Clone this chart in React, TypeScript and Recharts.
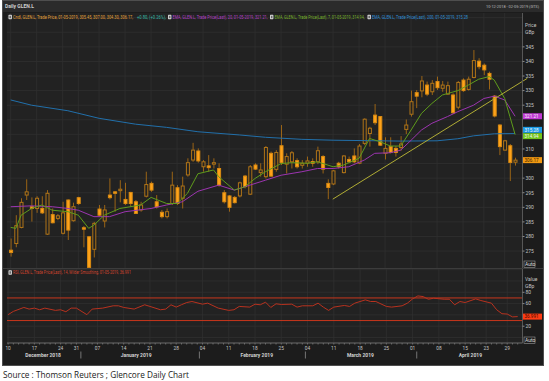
import React from 'react';
import { ComposedChart, Bar, Line, XAxis, YAxis, CartesianGrid, ReferenceLine } from 'recharts';

// ---------------- data ----------------
const dates = [
  '2018-12-10','2018-12-11','2018-12-12','2018-12-13','2018-12-14','2018-12-17','2018-12-18','2018-12-19','2018-12-20','2018-12-21','2018-12-24','2018-12-27','2018-12-28','2018-12-31',
  '2019-01-02','2019-01-03','2019-01-04','2019-01-07','2019-01-08','2019-01-09','2019-01-10','2019-01-11','2019-01-14','2019-01-15','2019-01-16','2019-01-17','2019-01-18','2019-01-21','2019-01-22','2019-01-23','2019-01-24','2019-01-25','2019-01-28','2019-01-29','2019-01-30','2019-01-31',
  '2019-02-01','2019-02-04','2019-02-05','2019-02-06','2019-02-07','2019-02-08','2019-02-11','2019-02-12','2019-02-13','2019-02-14','2019-02-15','2019-02-18','2019-02-19','2019-02-20','2019-02-21','2019-02-22','2019-02-25','2019-02-26','2019-02-27','2019-02-28',
  '2019-03-01','2019-03-04','2019-03-05','2019-03-06','2019-03-07','2019-03-08','2019-03-11','2019-03-12','2019-03-13','2019-03-14','2019-03-15','2019-03-18','2019-03-19','2019-03-20','2019-03-21','2019-03-22','2019-03-25','2019-03-26','2019-03-27','2019-03-28','2019-03-29',
  '2019-04-01','2019-04-02','2019-04-03','2019-04-04','2019-04-05','2019-04-08','2019-04-09','2019-04-10','2019-04-11','2019-04-12','2019-04-15','2019-04-16','2019-04-17','2019-04-18','2019-04-23','2019-04-24','2019-04-25','2019-04-26','2019-04-29','2019-04-30',
  '2019-05-01',
];

const opens = [
  275.3,277.6,283.1,294.2,290.2,289.6,289.6,280.8,287.5,286.2,281.1,292.5,285.4,293.3,
  283.0,279.9,275.6,289.4,285.3,294.2,295.3,295.7,292.7,295.1,291.9,289.1,293.8,298.2,291.9,288.3,286.8,291.3,296.7,293.1,301.1,306.2,
  309.3,303.9,304.2,304.8,303.3,295.0,293.9,293.4,293.9,300.7,294.5,304.5,301.9,300.5,308.5,303.0,311.1,304.8,305.6,306.0,
  304.4,305.1,305.7,305.6,307.4,298.2,298.0,305.1,301.9,306.4,307.6,305.1,311.9,315.3,321.6,321.1,308.5,310.8,310.2,310.5,316.7,
  321.9,329.3,329.9,331.9,329.6,333.1,330.8,328.8,328.5,324.3,333.6,330.4,334.5,340.1,338.7,335.9,328.1,318.2,309.6,311.1,
  305.45,
];
const highs = [
  279.3,287.3,293.1,299.6,293.4,293.8,293.8,295.9,289.6,287.7,291.9,292.7,291.6,293.6,
  283.6,280.2,285.0,290.8,290.8,299.9,295.6,299.3,298.4,295.3,292.5,291.9,302.2,298.8,294.2,289.1,289.6,302.2,297.6,300.5,306.8,312.1,
  310.2,306.2,307.9,306.8,305.1,295.9,294.2,293.9,298.8,301.1,304.5,305.1,305.1,311.0,309.1,309.6,318.2,308.5,309.3,306.8,
  306.2,307.4,306.8,310.8,307.9,299.6,302.8,305.6,307.9,307.4,310.2,311.7,320.5,317.6,325.4,321.3,314.0,314.0,311.0,314.4,320.1,
  330.0,330.2,335.0,333.1,333.6,334.8,333.3,333.1,329.1,333.3,334.2,334.8,343.9,341.1,339.3,336.5,328.5,318.5,313.1,311.7,
  307.0,
];
const lows = [
  273.1,276.3,282.8,292.5,285.1,288.1,287.7,280.5,284.5,285.6,280.7,278.8,285.1,290.8,
  276.3,269.2,272.8,287.0,283.1,292.7,288.5,291.7,290.8,290.2,287.7,288.5,293.4,295.3,289.6,286.2,286.2,290.8,290.8,289.6,300.5,305.6,
  305.3,302.2,302.2,303.3,297.1,291.3,288.5,291.3,293.4,296.5,294.2,302.8,300.5,299.9,300.5,302.2,304.5,301.6,303.3,303.3,
  303.3,303.9,303.9,304.8,301.6,292.8,297.6,303.3,301.6,305.1,305.1,304.8,311.3,310.8,318.2,311.0,306.4,308.5,307.4,309.4,315.1,
  321.1,324.0,327.7,328.1,328.5,330.2,329.6,328.5,322.0,323.6,329.6,330.0,334.2,337.3,335.3,330.4,320.8,307.9,309.4,299.0,
  304.3,
];
const closes = [
  274.5,283.7,291.7,295.3,289.6,293.1,288.1,294.8,284.7,287.1,288.1,282.2,290.2,291.3,
  282.5,269.4,284.5,287.3,289.1,293.3,294.8,296.2,291.3,291.3,287.9,290.8,297.8,295.9,290.2,286.8,288.5,297.6,291.3,297.3,305.3,309.6,
  305.9,305.6,303.6,305.3,297.6,291.9,290.0,291.6,298.4,297.1,303.9,303.1,302.8,310.5,300.7,308.8,305.3,307.4,308.7,303.9,
  305.1,305.9,305.1,309.4,303.1,296.8,302.5,303.9,307.6,305.6,305.6,311.0,320.2,317.1,319.0,311.3,310.2,308.8,308.8,311.7,318.2,
  326.2,328.1,333.3,328.8,332.5,331.0,331.9,331.7,322.4,332.8,330.0,333.9,340.3,338.2,337.1,333.9,321.3,310.8,312.8,305.37,
  306.17,
];

// [trading-day index, value]
const ema7Points: Array<[number, number]> = [
  [0,283.1],[1,282.8],[2,287.3],[4,289.6],[6,290.8],[8,289],[11,288.5],[13,287.3],[15,282.8],[16,283.9],[18,287.3],[21,289.6],
  [25,290.8],[27,293.4],[30,291.3],[32,291.3],[34,294.8],[36,301.5],[39,302.8],[40,300.5],[43,295.9],[45,297],[47,299.9],[49,302.2],
  [52,305],[54,305.3],[57,305.1],[59,305.6],[62,303.9],[64,304.5],[67,306.8],[69,313.6],[71,312.5],[73,311],[75,311],[77,316.5],
  [79,322.2],[81,325.6],[83,328.5],[84,329],[86,330],[88,331.9],[90,333.9],[92,334.8],[93,333.6],[95,327.3],[96,321.1],[97,314.94],
];
const ema20Points: Array<[number, number]> = [
  [0,290.2],[4,290.5],[8,290.2],[11,289.6],[13,289],[16,286.8],[19,286.8],[22,288.5],[27,289.6],[30,290.8],[33,291.9],[36,295.5],
  [40,297.6],[43,295.9],[46,297.6],[49,299.3],[52,301],[56,302.2],[59,303.3],[62,303.3],[65,303.9],[68,306.2],[70,308.5],[73,308.7],
  [75,309.6],[77,313],[79,316.5],[81,318.8],[84,321.1],[86,322.8],[89,325],[91,327.3],[93,328.1],[95,326.8],[97,321.21],
];
const ema200Points: Array<[number, number]> = [
  [0,326.8],[4,325],[11,323.1],[17,320.5],[24,318.5],[30,317.4],[36,315.9],[44,314.8],[49,314],[56,313.3],[62,313],[75,312.7],
  [82,312.8],[86,313.5],[89,314.5],[93,315.2],[97,315.28],
];
const rsiPoints: Array<[number, number]> = [
  [0,40.4],[1,46.2],[3,53.2],[4,50.3],[5,52],[6,49.1],[7,52],[9,48],[10,49.1],[11,45.6],[12,52],[13,52],[15,40.4],[16,50.3],[18,52],
  [20,56.1],[21,56.1],[22,53.2],[24,50.3],[26,57.9],[27,55],[29,49.1],[30,50.3],[31,57.9],[32,53.8],[33,58],[34,61.9],[35,63.7],
  [37,59],[38,60.8],[40,52],[42,48],[43,49.1],[44,55],[46,53.8],[47,59],[48,57.9],[49,62.5],[50,53.2],[51,59.6],[52,58.4],[54,59],
  [55,53.8],[56,56.1],[58,56.1],[59,60.8],[60,53.8],[61,48],[62,53.8],[64,56.7],[65,55],[66,60.8],[68,66.6],[69,63.7],[70,63.7],
  [72,55],[73,53.8],[75,56.1],[76,60.8],[77,68.3],[78,73.6],[79,72.4],[80,67.7],[81,69.5],[83,67.7],[84,67.7],[85,57.9],[86,63.7],
  [87,61.9],[89,68.3],[90,65.4],[92,60.8],[93,49.1],[94,42.1],[95,41.5],[96,36.5],[97,36.99],
];

const dateTicks = [
  '2018-12-10','2018-12-17','2018-12-24','2018-12-31','2019-01-07','2019-01-14','2019-01-21','2019-01-28',
  '2019-02-04','2019-02-11','2019-02-18','2019-02-25','2019-03-04','2019-03-11','2019-03-18','2019-03-25',
  '2019-04-01','2019-04-08','2019-04-15','2019-04-23','2019-04-29',
];
const tickLabels = ['10','17','24','31','07','14','21','28','04','11','18','25','04','11','18','25','01','08','15','23','29'];
const monthNames = ['December 2018','January 2019','February 2019','March 2019','April 2019'];
const monthCenters = [6.8, 24.3, 47.0, 66.5, 87.2]; // in trading-day index units
const monthBreaks = [13.9, 36.2, 56.15, 77.1, 97.3];
// price labels hidden behind the value tags in the reference (305, 315, 320) are left out
const priceTicks = [275,280,285,290,295,300,310,325,330,335,340,345];
const priceGrid = [275,280,285,290,295,300,305,310,315,320,325,330,335,340,345,350,355];
const rsiTicks = [20,60,80];
const rsiGrid = [0,20,40,60,80,100,120];
const rsiBands = [70, 30];
const trendLine = [{ x: 61.3, y: 292.8 }, { x: 97.9, y: 334.2 }];
const lastEma20 = 321.21, lastEma200 = 315.28, lastEma7 = 314.94, lastClose = 306.17, lastRsi = 36.991;

// ---------------- build table ----------------
const pick = (pts: Array<[number, number]>, i: number) => {
  const f = pts.find((p) => p[0] === i);
  return f ? f[1] : null;
};
const data = dates.map((d, i) => ({
  date: d, open: opens[i], high: highs[i], low: lows[i], close: closes[i],
  ema7: pick(ema7Points, i), ema20: pick(ema20Points, i), ema200: pick(ema200Points, i), rsi: pick(rsiPoints, i),
}));
const tickLabelMap: Record<string, string> = {};
dateTicks.forEach((d, k) => { tickLabelMap[d] = tickLabels[k]; });

// ---------------- style ----------------
const FONT = 'Roboto, "Liberation Sans", sans-serif';
const PLOT_BG = '#222222';
const GRID = '#303030';
const AXIS_TXT = '#c4c4c4';
const DOWN = '#ffa31a';
const UP_STROKE = '#b07418';
const WICK = '#9a6416';
const C_EMA7 = '#5f9c1c';
const C_EMA20 = '#9c35b0';
const C_EMA200 = '#2270ab';
const C_TREND = '#b0ac34';
const C_RSI = '#b8321f';
const C_BAND = '#c8361c';

const W = 549;
const LEFT = 7;
const AXIS_W = 26.5;
const X_PAD = { left: 1.1, right: 4.8 };
const IDX_DOMAIN: [number, number] = [-0.7115, 98.42];

const Candle = (props: any) => {
  const { x, y, width, height, payload } = props;
  if (!payload) return <g />;
  const { open, close, high, low } = payload;
  const top = Math.min(y, y + height);
  const h = Math.abs(height);
  const k = h / (high - low);
  const yO = top + (high - open) * k;
  const yC = top + (high - close) * k;
  const bTop = Math.min(yO, yC);
  const bH = Math.max(Math.abs(yC - yO), 1);
  const cx = x + width / 2;
  const up = close >= open;
  return (
    <g>
      <line x1={cx} x2={cx} y1={top} y2={top + h} stroke={WICK} strokeWidth={1} />
      <rect x={x + 0.5} y={bTop} width={width - 1} height={bH}
        fill={up ? PLOT_BG : DOWN} stroke={up ? UP_STROKE : '#d98a12'} strokeWidth={1} />
    </g>
  );
};

const ValueTag = (props: any) => {
  const { viewBox, text, bg, fg, dy = 0, w = 19 } = props;
  if (!viewBox) return null;
  const x0 = viewBox.x + viewBox.width + 0.5;
  const yc = viewBox.y + dy;
  return (
    <g>
      <rect x={x0} y={yc - 3} width={w} height={6} fill={bg} />
      <text x={x0 + 1.5} y={yc + 1.7} fontSize={4.6} fontFamily={FONT} fill={fg}>{text}</text>
    </g>
  );
};

const MonthLabel = (props: any) => {
  const { viewBox, text } = props;
  if (!viewBox) return null;
  return (
    <text x={viewBox.x} y={viewBox.y + viewBox.height + 14} textAnchor="middle" fontSize={5}
      fontWeight={700} fontFamily={FONT} fill="#d0d0d0">{text}</text>
  );
};
const MonthBreak = (props: any) => {
  const { viewBox } = props;
  if (!viewBox) return null;
  const yb = viewBox.y + viewBox.height;
  return <line x1={viewBox.x} x2={viewBox.x} y1={yb + 8.5} y2={yb + 15.5} stroke="#8c8c8c" strokeWidth={0.8} />;
};

const DayTick = (props: any) => {
  const { x, y, payload } = props;
  const lbl = tickLabelMap[payload.value];
  return (
    <g>
      <line x1={x} x2={x} y1={y} y2={y + 1.6} stroke="#8a8a8a" strokeWidth={0.6} />
      {lbl ? (
        <text x={x} y={y + 6.8} textAnchor="middle" fontSize={4.8} fontFamily={FONT} fill={AXIS_TXT}>{lbl}</text>
      ) : null}
    </g>
  );
};

const PriceChart = () => (
  <ComposedChart width={W} height={270} data={data} margin={{ top: 13, right: 0, bottom: 2, left: LEFT }}>
    <CartesianGrid stroke={GRID} strokeWidth={0.8} verticalValues={dateTicks} horizontalValues={priceGrid} />
    <XAxis dataKey="date" hide padding={X_PAD} ticks={dateTicks} interval={0} />
    <XAxis xAxisId="num" type="number" hide domain={IDX_DOMAIN} allowDataOverflow />
    <YAxis orientation="right" width={AXIS_W} domain={[269.2, 356.6]} allowDataOverflow ticks={priceTicks} interval={0}
      tickSize={2} tickMargin={1} axisLine={{ stroke: '#575757' }} tickLine={{ stroke: '#8a8a8a' }}
      tick={{ fontSize: 5, fill: AXIS_TXT, fontFamily: FONT }} />
    <Line dataKey="ema200" stroke={C_EMA200} strokeWidth={1} dot={false} connectNulls isAnimationActive={false} />
    <Line dataKey="ema20" stroke={C_EMA20} strokeWidth={1} dot={false} connectNulls isAnimationActive={false} />
    <Line dataKey="ema7" stroke={C_EMA7} strokeWidth={1} dot={false} connectNulls isAnimationActive={false} />
    <Bar dataKey={(d: any) => [d.low, d.high]} barSize={4} shape={Candle} isAnimationActive={false} />
    <ReferenceLine xAxisId="num" segment={trendLine} stroke={C_TREND} strokeWidth={1} ifOverflow="visible" />
    <ReferenceLine y={lastEma20} stroke="none" ifOverflow="visible"
      label={<ValueTag text={lastEma20.toFixed(2)} bg="#c23ad6" fg="#f4f4f4" />} />
    <ReferenceLine y={lastEma200} stroke="none" ifOverflow="visible"
      label={<ValueTag text={lastEma200.toFixed(2)} bg="#1d9be6" fg="#f4f4f4" dy={-3.7} />} />
    <ReferenceLine y={lastEma7} stroke="none" ifOverflow="visible"
      label={<ValueTag text={lastEma7.toFixed(2)} bg="#72c51c" fg="#f4f4f4" dy={1.6} />} />
    <ReferenceLine y={lastClose} stroke="none" ifOverflow="visible"
      label={<ValueTag text={lastClose.toFixed(2)} bg="#f39a12" fg="#3a2400" />} />
  </ComposedChart>
);

const RsiChart = () => (
  <ComposedChart width={W} height={97} data={data} margin={{ top: 0, right: 0, bottom: 0, left: LEFT }}>
    <CartesianGrid stroke={GRID} strokeWidth={0.8} verticalValues={dateTicks} horizontalValues={rsiGrid} />
    <XAxis dataKey="date" padding={X_PAD} ticks={dates} interval={0} height={23} tickSize={0} tickMargin={0}
      tickLine={false} axisLine={{ stroke: '#6a6a6a' }} tick={DayTick} />
    <XAxis xAxisId="num" type="number" hide domain={IDX_DOMAIN} allowDataOverflow />
    <YAxis orientation="right" width={AXIS_W} domain={[-9.7, 121.2]} allowDataOverflow ticks={rsiTicks} interval={0}
      tickSize={2} tickMargin={1} axisLine={{ stroke: '#575757' }} tickLine={{ stroke: '#8a8a8a' }}
      tick={{ fontSize: 5, fill: AXIS_TXT, fontFamily: FONT }} />
    {rsiBands.map((v) => (
      <ReferenceLine key={v} y={v} stroke={C_BAND} strokeWidth={1} />
    ))}
    <Line dataKey="rsi" stroke={C_RSI} strokeWidth={1} dot={false} connectNulls isAnimationActive={false} />
    <ReferenceLine y={lastRsi} stroke="none" ifOverflow="visible"
      label={<ValueTag text={lastRsi.toFixed(3)} bg="#ff3c14" fg="#3a0a00" />} />
    {monthCenters.map((c, k) => (
      <ReferenceLine key={'m' + k} xAxisId="num" x={c} stroke="none" label={<MonthLabel text={monthNames[k]} />} />
    ))}
    {monthBreaks.map((c, k) => (
      <ReferenceLine key={'b' + k} xAxisId="num" x={c} stroke="none" label={<MonthBreak />} />
    ))}
  </ComposedChart>
);

const Icon = ({ x, y }: { x: number; y: number }) => (
  <g>
    <rect x={x} y={y - 2.2} width={3.4} height={4.4} rx={0.6} fill="#d8d8d8" />
    <rect x={x + 0.9} y={y - 1.2} width={1.6} height={2.4} fill="#6a6a6a" />
  </g>
);

// condensed text: drawn at a natural size then squeezed horizontally to the width
const Squeezed = ({ x, y, w, k, color, size = 5, children }: any) => (
  <g transform={`translate(${x},${y}) scale(${k},1)`}>
    <text x={0} y={0} fontSize={size} fontFamily={FONT} fill={color} textLength={w / k} lengthAdjust="spacingAndGlyphs">{children}</text>
  </g>
);

const Overlay = () => (
  <svg width={549} height={381} style={{ position: 'absolute', left: 0, top: 0, pointerEvents: 'none' }}>
    <text x={5} y={8} fontSize={5} fontWeight={700} fontFamily={FONT} fill="#cfcfcf">Daily GLEN.L</text>
    <Squeezed x={486} y={8} w={53} k={0.72} size={4.4} color="#bdbdbd">10-12-2018 - 02-05-2019 (GTS)</Squeezed>
    <Icon x={8.5} y={17} />
    <Squeezed x={13} y={18.8} w={120} k={0.72} color="#e3a23a">Cndl, GLEN.L, Trade Price, 01-05-2019, 305.45, 307.00, 304.30, 306.17,</Squeezed>
    <Squeezed x={137} y={18.8} w={29} k={0.72} color="#35b7a6">+0.80, (+0.26%),</Squeezed>
    <Icon x={168} y={17} />
    <Squeezed x={172.5} y={18.8} w={95} k={0.72} color="#b640c8">EMA, GLEN.L, Trade Price(Last), 20, 01-05-2019, 321.21,</Squeezed>
    <Icon x={270} y={17} />
    <Squeezed x={274.5} y={18.8} w={90} k={0.72} color="#78b22a">EMA, GLEN.L, Trade Price(Last), 7, 01-05-2019, 314.94,</Squeezed>
    <Icon x={367.5} y={17} />
    <Squeezed x={372} y={18.8} w={96} k={0.72} color="#2f8fd6">EMA, GLEN.L, Trade Price(Last), 200, 01-05-2019, 315.28</Squeezed>
    <text x={525} y={27} fontSize={5} fontFamily={FONT} fill={AXIS_TXT}>Price</text>
    <text x={525} y={34} fontSize={5} fontFamily={FONT} fill={AXIS_TXT}>GBp</text>
    <rect x={524} y={261} width={11} height={6.5} fill="none" stroke="#9a9a9a" strokeWidth={0.6} />
    <text x={525} y={266} fontSize={5} fontFamily={FONT} fill="#dcdcdc">Auto</text>
    <Icon x={8.5} y={272.5} />
    <Squeezed x={13} y={274.3} w={118} k={0.72} color="#d0442e">RSI, GLEN.L, Trade Price(Last), 14, Wilder Smoothing, 01-05-2019, 36.991</Squeezed>
    <text x={525} y={281} fontSize={5} fontFamily={FONT} fill={AXIS_TXT}>Value</text>
    <text x={525} y={287.5} fontSize={5} fontFamily={FONT} fill={AXIS_TXT}>GBp</text>
    <rect x={524} y={337} width={11} height={6.5} fill="none" stroke="#9a9a9a" strokeWidth={0.6} />
    <text x={525} y={342} fontSize={5} fontFamily={FONT} fill="#dcdcdc">Auto</text>
    <text x={3} y={378} fontSize={9.2} fontFamily='"Open Sans", sans-serif' fill="#1a1a1a" textLength={186} lengthAdjust="spacingAndGlyphs">Source : Thomson Reuters ; Glencore Daily Chart</text>
  </svg>
);

export default function App() {
  return (
    <div style={{ position: 'absolute', left: 0, top: 0, width: 549, height: 381, background: '#ffffff', overflow: 'hidden' }}>
      <div style={{ position: 'absolute', left: 2, top: 0, width: 542, height: 366, background: '#1c1c1c', boxSizing: 'border-box', border: '1px solid #4e4e4e' }} />
      <div style={{ position: 'absolute', left: 3, top: 1, width: 540, height: 11, background: '#2b2b2b' }} />
      <div style={{ position: 'absolute', left: LEFT, top: 13, width: 515.5, height: 255, background: PLOT_BG }} />
      <div style={{ position: 'absolute', left: 3, top: 268, width: 540, height: 1, background: '#3c3c3c' }} />
      <div style={{ position: 'absolute', left: LEFT, top: 269, width: 515.5, height: 74, background: PLOT_BG }} />
      <div style={{ position: 'absolute', left: 0, top: 0 }}><PriceChart /></div>
      <div style={{ position: 'absolute', left: 0, top: 269 }}><RsiChart /></div>
      <Overlay />
    </div>
  );
}
